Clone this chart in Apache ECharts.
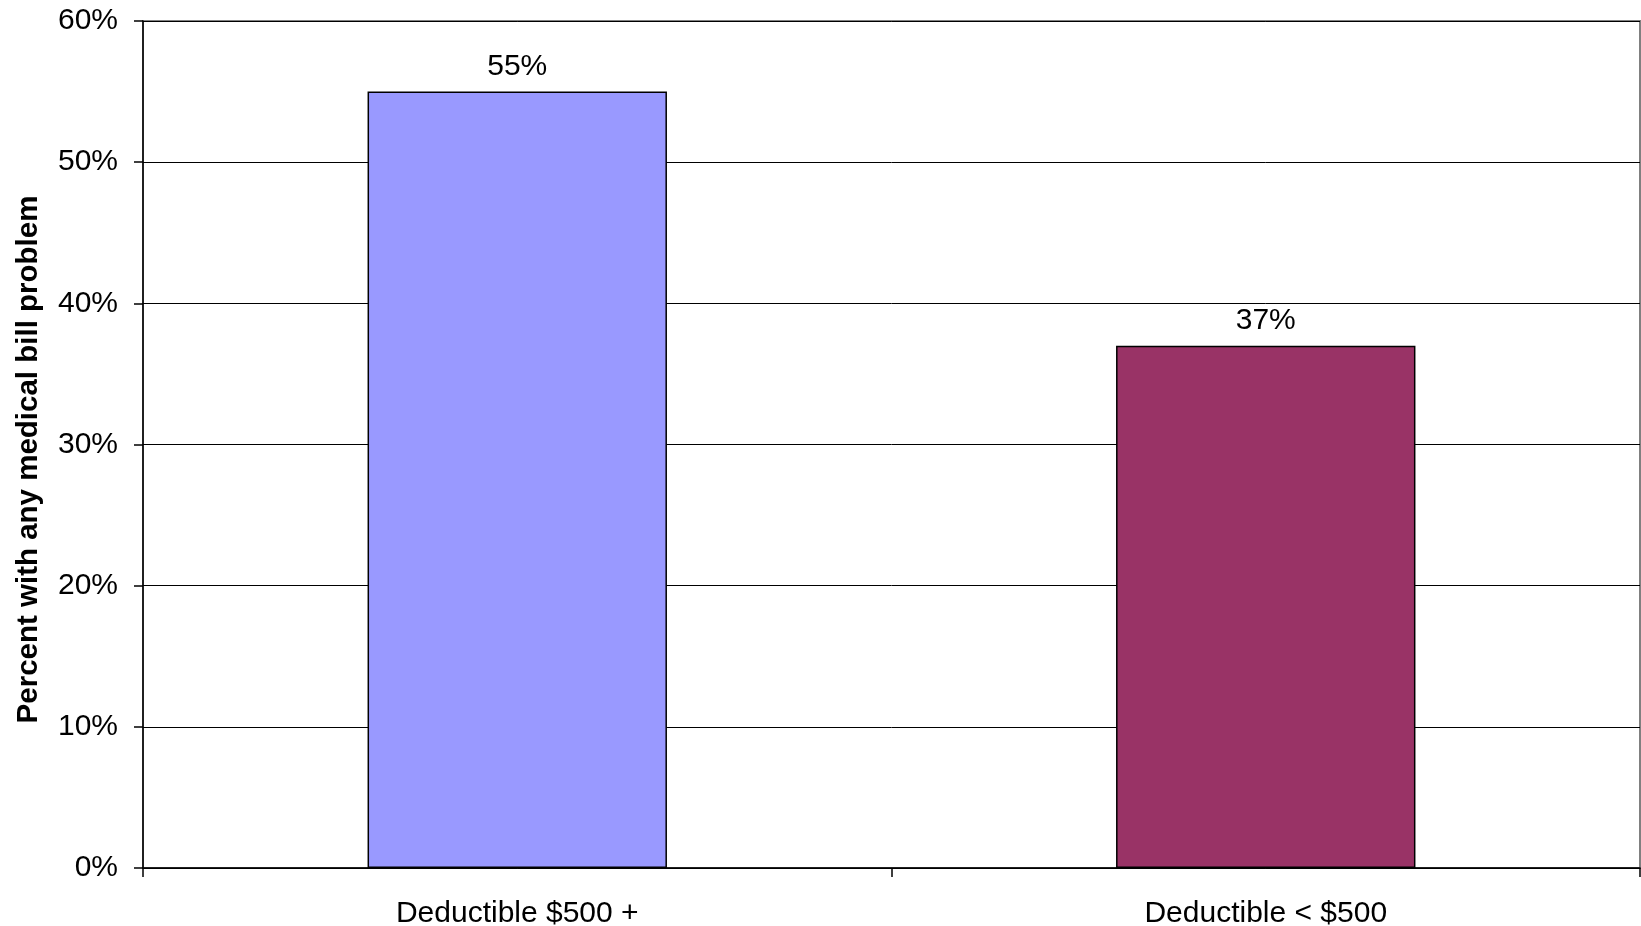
<!DOCTYPE html>
<html>
<head>
<meta charset="utf-8">
<script src="https://cdn.jsdelivr.net/npm/echarts@6/dist/echarts.min.js"></script>
<style>
html,body{margin:0;padding:0;background:#fff;}
#chart{width:1641px;height:926px;}
</style>
</head>
<body>
<div id="chart"></div>
<script>
const categories = ['Deductible $500 +', 'Deductible < $500'];
const values = [55, 37];
const barColors = ['#9999FF', '#993366'];
const yAxisTitle = 'Percent with any medical bill problem';

const FONT = '"Liberation Sans", Arial, sans-serif';
const chart = echarts.init(document.getElementById('chart'));
chart.setOption({
  animation: false,
  backgroundColor: '#ffffff',
  grid: {
    left: 143, right: 1, top: 21, bottom: 58,
    containLabel: false,
    outerBoundsMode: 'none',
    show: true, borderColor: '#808080', borderWidth: 2, backgroundColor: 'transparent'
  },
  xAxis: {
    type: 'category',
    data: categories,
    boundaryGap: true,
    axisLine: { show: true, lineStyle: { color: '#000', width: 1.5 } },
    axisTick: { show: true, alignWithLabel: false, length: 9, lineStyle: { color: '#000', width: 1.5 } },
    axisLabel: { color: '#000', fontSize: 30, fontFamily: FONT, margin: 31 },
    splitLine: { show: false }
  },
  yAxis: {
    type: 'value',
    min: 0, max: 60, interval: 10,
    name: yAxisTitle,
    nameLocation: 'middle',
    nameGap: 99,
    nameTextStyle: { color: '#000', fontSize: 29.5, fontWeight: 'bold', fontFamily: FONT, padding: [0, 30, 0, 0] },
    axisLine: { show: true, lineStyle: { color: '#000', width: 1.5 } },
    axisTick: { show: true, length: 9, lineStyle: { color: '#000', width: 1.5 } },
    axisLabel: { color: '#000', fontSize: 30, fontFamily: FONT, margin: 25, formatter: v => v + '%' },
    splitLine: { show: true, lineStyle: { color: '#000', width: 1 } }
  },
  series: [{
    type: 'bar',
    barWidth: '40%',
    data: values.map((v, i) => ({ value: v, itemStyle: { color: barColors[i] } })),
    itemStyle: { borderColor: '#000', borderWidth: 1.5 },
    label: {
      show: true, position: 'top', distance: 10,
      color: '#000', fontSize: 30, fontFamily: FONT,
      formatter: p => p.value + '%'
    }
  }]
});
</script>
</body>
</html>
